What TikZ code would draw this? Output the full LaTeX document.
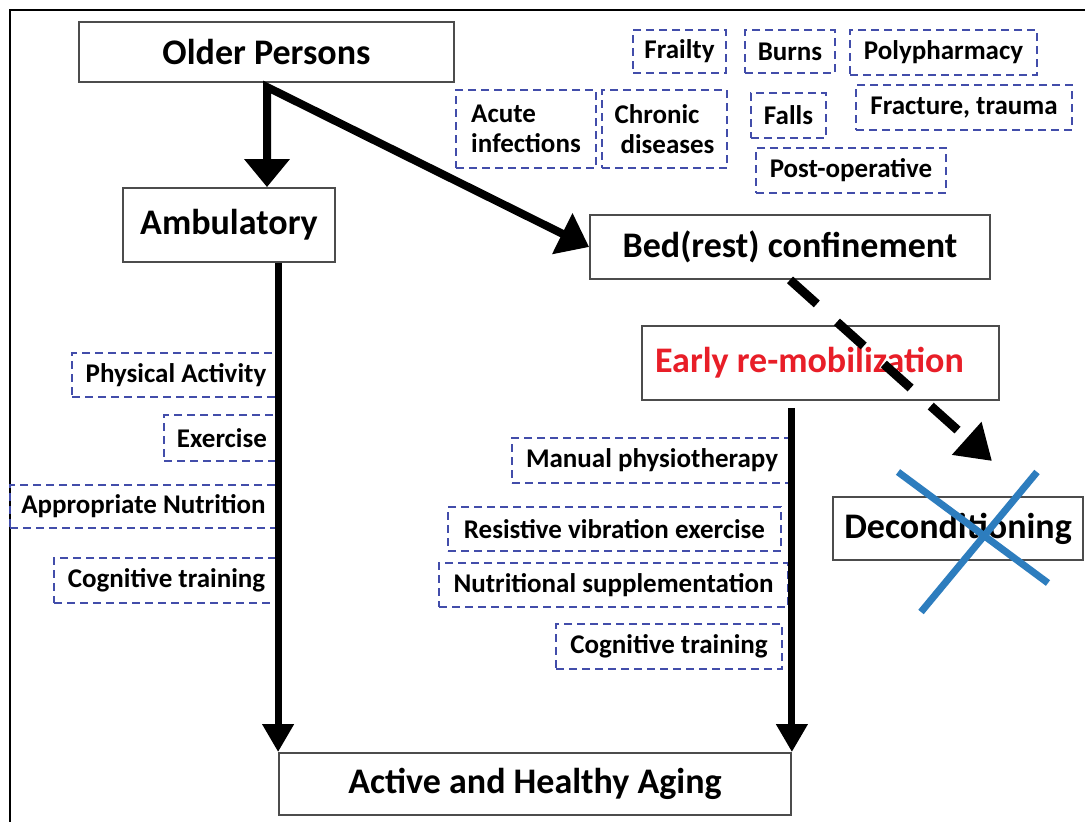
\documentclass[tikz,border=0pt]{standalone}
\usepackage{fontspec}
\setmainfont{Carlito}
\usetikzlibrary{arrows.meta}
\definecolor{dblue}{RGB}{66,77,170}
\definecolor{xblue}{RGB}{45,125,190}
\definecolor{ered}{RGB}{232,30,40}
\begin{document}
\begin{tikzpicture}[x=1pt,y=-1pt,
  mainbox/.style={draw=black!70, line width=1.8pt, fill=white, inner sep=0pt, font=\fontsize{36}{42}\selectfont\bfseries},
  dbox/.style={draw=dblue, line width=2.8pt, dash pattern=on 8pt off 5pt, inner sep=0pt, align=center, font=\fontsize{27}{30}\selectfont\bfseries},
  bigarrow/.style={line width=8pt, line join=miter},
  ]
\fill[white] (0,0) rectangle (1085,822);
\useasboundingbox (0,0) rectangle (1085,822);
\draw[line width=2pt] (10,822) -- (10,10) -- (1085,10);

% main boxes
\node[mainbox, minimum width=375, minimum height=60] (older) at (266.5,52) {Older Persons};
\node[mainbox, minimum width=212, minimum height=74] (amb) at (229,225) {Ambulatory};
\node[mainbox, minimum width=400, minimum height=64] (bed) at (790,247) {Bed(rest) confinement};
\node[mainbox, minimum width=357, minimum height=74, text=ered] (erm) at (820.5,363) {\raisebox{5pt}{Early re-mobilization}\hspace*{22pt}};
\node[mainbox, minimum width=250, minimum height=63] (decon) at (958,528.5) {Deconditioning};
\node[mainbox, minimum width=512, minimum height=62] (aha) at (535,784) {Active and Healthy Aging};

% causes
\node[dbox, minimum width=93, minimum height=43] (frailty) at (679.5,51.5) {Frailty};
\node[dbox, minimum width=90, minimum height=43] (burns) at (790,51.5) {Burns};
\node[dbox, minimum width=187, minimum height=45] (poly) at (943.5,52.5) {Polypharmacy};
\node[dbox, minimum width=140, minimum height=78, align=left] (acute) at (526,129) {Acute\\infections};
\node[dbox, minimum width=125, minimum height=78, align=left] (chronic) at (664.5,129) {Chronic\\\hspace*{6pt}diseases};
\node[dbox, minimum width=75, minimum height=45] (falls) at (788.5,115.5) {Falls};
\node[dbox, minimum width=216, minimum height=45] (fract) at (964,107.5) {Fracture, trauma};
\node[dbox, minimum width=190, minimum height=45] (postop) at (851,170.5) {Post-operative};

% ambulatory interventions
\node[dbox, minimum width=208, minimum height=44] (pa) at (176,375) {Physical Activity};
\node[dbox, minimum width=116, minimum height=46] (ex) at (222,438) {Exercise};
\node[dbox, minimum width=267, minimum height=43] (an) at (143.5,506.5) {Appropriate Nutrition};
\node[dbox, minimum width=225, minimum height=45] (ct1) at (166.5,580.5) {Cognitive training};

% bed rest interventions
\node[dbox, minimum width=280, minimum height=45] (mp) at (652,460.5) {Manual physiotherapy};
\node[dbox, minimum width=333, minimum height=44] (rv) at (614.5,529) {Resistive vibration exercise};
\node[dbox, minimum width=349, minimum height=44] (ns) at (613.5,585) {Nutritional supplementation};
\node[dbox, minimum width=226, minimum height=45] (ct2) at (669,646.5) {Cognitive training};

% arrows
\coordinate (split) at (267,87);
\draw[bigarrow, {Triangle[width=44pt,length=28pt]}-{Triangle[width=44pt,length=30pt]}]
  (amb.north -| split) -- (split) -- (bed.west);
\draw[line width=7pt, -{Triangle[width=30pt,length=28pt]}] (amb.south -| aha.north west) -- (aha.north west);
\draw[line width=7pt, -{Triangle[width=30pt,length=28pt]}] ([yshift=-7pt]erm.south -| aha.north east) -- (aha.north east);

\coordinate (dend) at (992,461);
\draw[line width=9pt, dash pattern=on 36pt off 27pt, -{Triangle[width=42pt,length=34pt]}] (bed.south) -- (dend);

% cross
\draw[xblue, line width=7pt] (898,472) -- (1048,583);
\draw[xblue, line width=7pt] (1037,472) -- (921,612);
\end{tikzpicture}
\end{document}
